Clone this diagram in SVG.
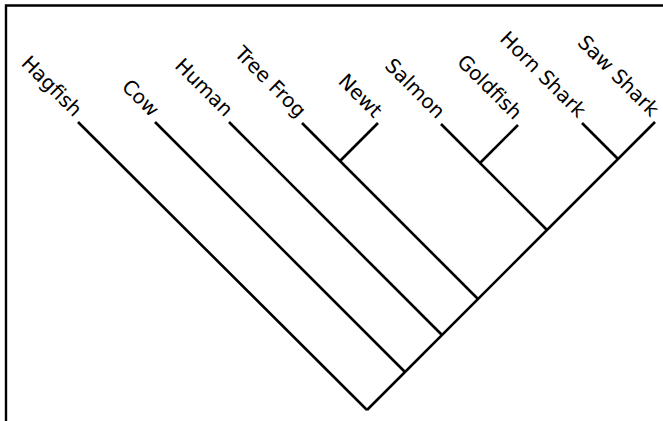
<svg xmlns="http://www.w3.org/2000/svg" width="663" height="421" viewBox="0 0 663 421">
  <style>
    .frame { fill: none; stroke: #000; stroke-width: 2.4; }
    .branch { fill: none; stroke: #000; stroke-width: 2.6; stroke-linecap: butt; }
    .label { font-family: "DejaVu Sans", "Liberation Sans", sans-serif; font-size: 20px; fill: #000; text-anchor: end; }
  </style>
  <rect width="663" height="421" fill="#fff"/>
  <!-- open frame: top and left edges only -->
  <path class="frame" d="M6,421 V5.5 H663"/>

  <!-- branches of the cladogram (45 degree lattice, root at 367,410) -->
  <g id="connectors">
    <!-- main spine from root up to Saw Shark -->
    <path class="branch" d="M367,410 L655,122"/>
    <!-- Hagfish -->
    <path class="branch" d="M367,410 L78,122"/>
    <!-- Cow -->
    <path class="branch" d="M405,372 L155,122"/>
    <!-- Human -->
    <path class="branch" d="M442,335 L229,122"/>
    <!-- Tree Frog with Newt -->
    <path class="branch" d="M478,299 L302,123"/>
    <path class="branch" d="M340,161 L378,123"/>
    <!-- Salmon with Goldfish -->
    <path class="branch" d="M547,230 L441,124"/>
    <path class="branch" d="M480,163 L518,125"/>
    <!-- Horn Shark -->
    <path class="branch" d="M618,159 L582,123"/>
  </g>

  <g id="hagfish"><text class="label" transform="translate(78,122) rotate(45)" x="-6" y="0">Hagfish</text></g>
  <g id="cow"><text class="label" transform="translate(155,122) rotate(45)" x="-6" y="0">Cow</text></g>
  <g id="human"><text class="label" transform="translate(229,122) rotate(45)" x="-6" y="0">Human</text></g>
  <g id="tree-frog"><text class="label" transform="translate(302,123) rotate(45)" x="-6" y="0">Tree Frog</text></g>
  <g id="newt"><text class="label" transform="translate(378,123) rotate(45)" x="-6" y="0">Newt</text></g>
  <g id="salmon"><text class="label" transform="translate(441,124) rotate(45)" x="-6" y="0">Salmon</text></g>
  <g id="goldfish"><text class="label" transform="translate(518,125) rotate(45)" x="-6" y="0">Goldfish</text></g>
  <g id="horn-shark"><text class="label" transform="translate(582,123) rotate(45)" x="-6" y="0">Horn Shark</text></g>
  <g id="saw-shark"><text class="label" transform="translate(655,122) rotate(45)" x="-6" y="0">Saw Shark</text></g>
</svg>
